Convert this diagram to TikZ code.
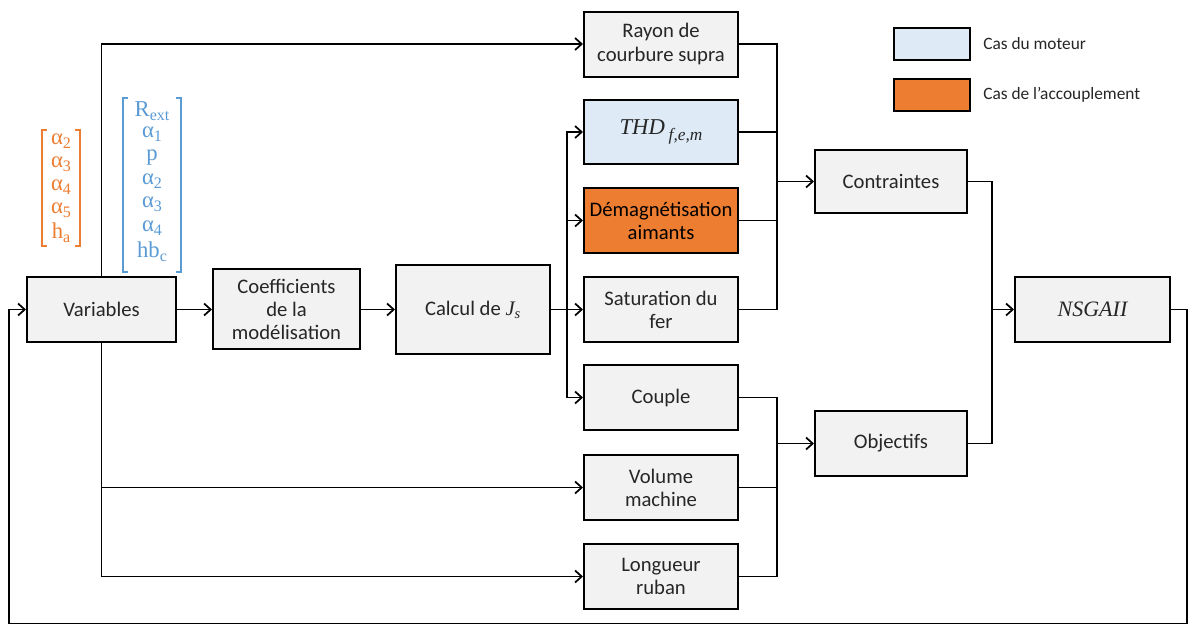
\documentclass[tikz,border=0pt]{standalone}
\usepackage{amsmath}
\usepackage{fontspec}
\setmainfont{Carlito}
\newfontfamily\grk{Liberation Serif}
\usetikzlibrary{arrows.meta,calc}
\definecolor{boxgrey}{HTML}{F2F2F2}
\definecolor{lblue}{HTML}{DEEBF7}
\definecolor{orng}{HTML}{ED7D31}
\definecolor{vblue}{HTML}{5B9BD5}
\definecolor{txt}{HTML}{262626}
\newcommand{\mi}[1]{{\grk\itshape #1}}
\newcommand{\vsb}[1]{\raisebox{-0.35ex}{\fontsize{12}{12}\selectfont #1}}
\begin{document}
\begin{tikzpicture}[x=0.75pt,y=-0.75pt,
  blk/.style={draw=black, line width=1.5pt, fill=boxgrey, minimum width=115.5pt, minimum height=48.75pt,
    align=center, text=txt, font=\fontsize{15.5}{17.3}\selectfont, inner sep=2pt},
  wire/.style={line width=1.3pt, draw=black},
  arr/.style={wire, -{Straight Barb[length=5pt,width=9pt,line width=1.3pt]}},
  legbox/.style={draw=black, line width=1.5pt, minimum width=57pt, minimum height=24pt},
  legtxt/.style={anchor=west, text=txt, font=\fontsize{13}{15}\selectfont, inner sep=0pt},
  vrow/.style={font=\grk\fontsize{17}{17}\selectfont, inner sep=0pt},
  brk/.style={line width=1.1pt},
]
\useasboundingbox (0,0) rectangle (1189,626);
\fill[white] (0,0) rectangle (1189,626);

% nodes
\node[blk, minimum width=111.75pt] (var) at (101.5,309.5) {Variables};
\node[blk, minimum width=110.25pt, minimum height=60pt] (coef) at (286.5,309) {Coefficients\\de la\\modélisation};
\node[blk, minimum height=66.75pt] (calc) at (473,309.5) {Calcul de \mi{J\textsubscript{s}}};
\node[blk] (rayon) at (661,44) {Rayon de\\courbure supra};
\node[blk, fill=lblue, minimum height=48pt] (thd) at (661,132) {\mi{\fontsize{17}{17}\selectfont THD\,\raisebox{-0.6ex}{\fontsize{13}{13}\selectfont f,e,m}}};
\node[blk, fill=orng, text=black] (demag) at (661,220.5) {Démagnétisation\\aimants};
\node[blk] (sat) at (661,309.5) {Saturation du\\fer};
\node[blk] (couple) at (661,397.5) {Couple};
\node[blk] (volume) at (661,487.5) {Volume\\machine};
\node[blk] (longueur) at (661,576.5) {Longueur\\ruban};
\node[blk, minimum width=114pt, minimum height=47.25pt] (contr) at (891,181.5) {Contraintes};
\node[blk, minimum width=114pt] (obj) at (891,443.5) {Objectifs};
\node[blk, minimum width=116.25pt] (nsga) at (1092.5,309.5) {\mi{\fontsize{16.5}{17}\selectfont NSGAII}};

% legend
\node[legbox, fill=lblue] (leg1) at (932,44) {};
\node[legbox, fill=orng] (leg2) at (932,95) {};
\node[legtxt] (leg1t) at (983,44) {Cas du moteur};
\node[legtxt] (leg2t) at (983,95) {Cas de l’accouplement};

% orange vector
\begin{scope}[every node/.style={vrow, text=orng}]
\node (o1) at (61,141) {α\vsb{2}};
\node (o2) at (61,164) {α\vsb{3}};
\node (o3) at (61,187) {α\vsb{4}};
\node (o4) at (61,210) {α\vsb{5}};
\node (o5) at (61,233) {h\vsb{a}};
\end{scope}
\draw[brk, orng] (47,130) -- (42,130) -- (42,246) -- (47,246);
\draw[brk, orng] (75,130) -- (80,130) -- (80,246) -- (75,246);

% blue vector
\begin{scope}[every node/.style={vrow, text=vblue}]
\node (b1) at (152,111) {R\vsb{ext}};
\node (b2) at (152,134) {α\vsb{1}};
\node (b3) at (152,157.5) {p};
\node (b4) at (152,181) {α\vsb{2}};
\node (b5) at (152,204) {α\vsb{3}};
\node (b6) at (152,228) {α\vsb{4}};
\node (b7) at (152,252) {hb\vsb{c}};
\end{scope}
\draw[brk, vblue] (128,98) -- (123,98) -- (123,272) -- (128,272);
\draw[brk, vblue] (176,98) -- (181,98) -- (181,272) -- (176,272);

% coordinates
\coordinate (br) at ($(calc.east)!0.5!(sat.west)$);
\coordinate (m1) at (777,181.5);
\coordinate (m2) at (777,443.5);
\coordinate (m3) at (992,309.5);
\coordinate (fb1) at (1187,623.5);
\coordinate (fb2) at (9,623.5);

% connectors
\draw[arr] (var.north) |- (rayon.west);
\draw[arr] (var.south) |- (volume.west);
\draw[arr] (var.south) |- (longueur.west);
\draw[arr] (var.east) -- (coef.west |- var.east);
\draw[arr] (coef.east |- calc.west) -- (calc.west);
\draw[arr] (calc.east) -- (sat.west);
\draw[arr] (br) |- (thd.west);
\draw[arr] (br) |- (demag.west);
\draw[arr] (br) |- (couple.west);

\draw[wire] (rayon.east) -| (m1);
\draw[wire] (thd.east) -| (m1);
\draw[wire] (demag.east) -| (m1);
\draw[wire] (sat.east) -| (m1);
\draw[arr] (m1) -- (contr.west);

\draw[wire] (couple.east) -| (m2);
\draw[wire] (volume.east) -| (m2);
\draw[wire] (longueur.east) -| (m2);
\draw[arr] (m2) -- (obj.west);

\draw[wire] (contr.east) -| (m3);
\draw[wire] (obj.east) -| (m3);
\draw[arr] (m3) -- (nsga.west);

\draw[arr] (nsga.east) -| (fb1) -- (fb2) |- (var.west);
\end{tikzpicture}
\end{document}
